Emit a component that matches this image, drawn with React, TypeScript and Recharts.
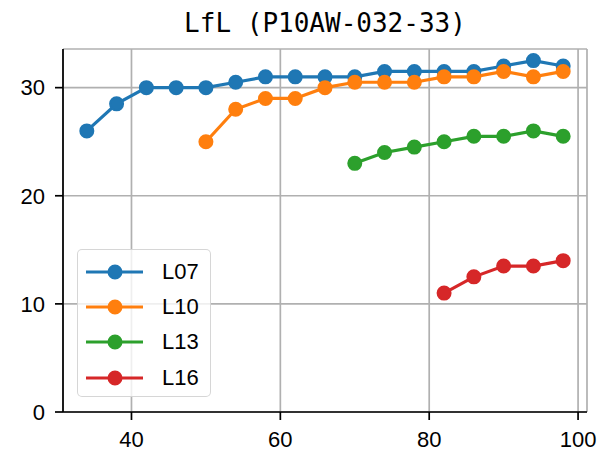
import {
  CartesianGrid,
  Legend,
  Line,
  LineChart,
  XAxis,
  YAxis,
} from "recharts";

/**
 * LfL line chart, matplotlib look: four series with round markers,
 * gray grid, boxed axes and a legend in the lower left.
 */

const TITLE = "LfL (P10AW-032-33)";

const X_VALUES = [34, 38, 42, 46, 50, 54, 58, 62, 66, 70, 74, 78, 82, 86, 90, 94, 98];

const L07 = [26, 28.5, 30, 30, 30, 30.5, 31, 31, 31, 31, 31.5, 31.5, 31.5, 31.5, 32, 32.5, 32];
const L10 = [25, 28, 29, 29, 30, 30.5, 30.5, 30.5, 31, 31, 31.5, 31, 31.5];
const L13 = [23, 24, 24.5, 25, 25.5, 25.5, 26, 25.5];
const L16 = [11, 12.5, 13.5, 13.5, 14];

const SERIES_NAMES = ["L07", "L10", "L13", "L16"];
const SERIES_VALUES = [L07, L10, L13, L16];
const COLORS = ["#1f77b4", "#ff7f0e", "#2ca02c", "#d62728"];

const X_TICKS = [40, 60, 80, 100];
const Y_TICKS = [0, 10, 20, 30];
const X_DOMAIN = [30.8, 101.2];
const Y_DOMAIN = [0, 33.575];

const W = 616;
const H = 456;
const TICK_FONT = { fontFamily: "'Liberation Sans', Arial, sans-serif", fontSize: 22, fill: "#000" };
const LINE_W = 3.2;

// each series lines up with the last xs (they all end at 98)
const seriesData = SERIES_VALUES.map((vals) => {
  const xs = X_VALUES.slice(X_VALUES.length - vals.length);
  return xs.map((x, i) => ({ x, y: vals[i] }));
});

function LegendBox({ payload }: any) {
  return (
    <div
      style={{
        width: 134,
        height: 148,
        boxSizing: "border-box",
        background: "rgba(255,255,255,0.8)",
        border: "1.7px solid rgba(204,204,204,0.8)",
        borderRadius: 5,
        paddingTop: 4,
      }}
    >
      {(payload || []).map((p: any) => (
        <div key={p.value} style={{ display: "flex", alignItems: "center", height: 35.3 }}>
          <svg width={77} height={20} style={{ marginLeft: 7 }}>
            <line x1={1} y1={10} x2={58} y2={10} stroke={p.color} strokeWidth={LINE_W} />
            <circle cx={30} cy={10} r={6.5} fill={p.color} stroke={p.color} strokeWidth={2} />
          </svg>
          <span style={{ ...TICK_FONT, color: "#000", lineHeight: 1 }}>{p.value}</span>
        </div>
      ))}
    </div>
  );
}

export default function App() {
  return (
    <div style={{ position: "absolute", left: 0, top: 0, width: W, height: H, background: "#fff" }}>
      <svg width={W} height={48} style={{ position: "absolute", left: 0, top: 0 }}>
        <text
          x={325}
          y={32}
          textAnchor="middle"
          style={{ fontFamily: "'DejaVu Sans Mono', monospace", fontSize: 26, fill: "#000" }}
        >
          {TITLE}
        </text>
      </svg>
      <LineChart width={W} height={H} margin={{ top: 49, right: 29, left: 0, bottom: 0 }}>
        <CartesianGrid stroke="#b0b0b0" strokeWidth={1.7} />
        <XAxis
          type="number"
          dataKey="x"
          domain={X_DOMAIN}
          ticks={X_TICKS}
          allowDataOverflow
          height={44}
          tickSize={8}
          tickMargin={11}
          tick={TICK_FONT}
          axisLine={{ stroke: "#000", strokeWidth: 1.7 }}
          tickLine={{ stroke: "#000", strokeWidth: 1.7 }}
        />
        <XAxis
          xAxisId="top"
          orientation="top"
          type="number"
          domain={X_DOMAIN}
          height={0}
          tick={false}
          tickLine={false}
          axisLine={{ stroke: "#000", strokeWidth: 1.7 }}
        />
        <YAxis
          type="number"
          domain={Y_DOMAIN}
          ticks={Y_TICKS}
          allowDataOverflow
          width={63}
          tickSize={8}
          tickMargin={10}
          tick={TICK_FONT}
          axisLine={{ stroke: "#000", strokeWidth: 1.7 }}
          tickLine={{ stroke: "#000", strokeWidth: 1.7 }}
        />
        <YAxis
          yAxisId="right"
          orientation="right"
          type="number"
          domain={Y_DOMAIN}
          width={0}
          tick={false}
          tickLine={false}
          axisLine={{ stroke: "#000", strokeWidth: 1.7 }}
        />
        {SERIES_NAMES.map((name, i) => (
          <Line
            key={name}
            name={name}
            data={seriesData[i]}
            dataKey="y"
            stroke={COLORS[i]}
            strokeWidth={LINE_W}
            dot={{ r: 6.5, fill: COLORS[i], stroke: COLORS[i], strokeWidth: 2 }}
            activeDot={false}
            isAnimationActive={false}
          />
        ))}
        <Legend
          layout="vertical"
          align="center"
          verticalAlign="middle"
          content={<LegendBox />}
          wrapperStyle={{ left: 77, top: 249, width: 134, height: 148 }}
        />
      </LineChart>
    </div>
  );
}
